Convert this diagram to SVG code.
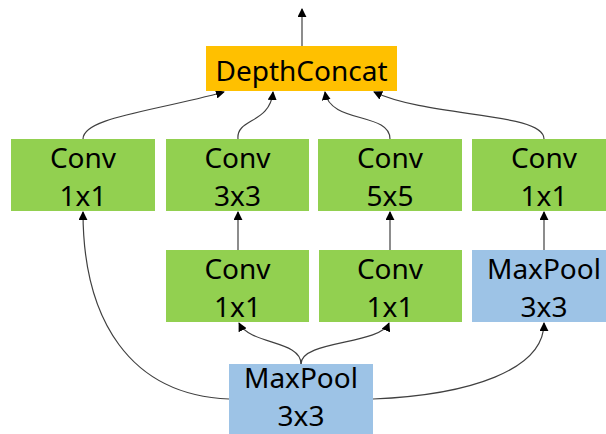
<svg xmlns="http://www.w3.org/2000/svg" width="606" height="434" viewBox="0 0 606 434">
<style>
  .t { font-family: "Noto Sans", "Open Sans", sans-serif; font-size: 28px; fill: #000; text-anchor: middle; }
  .conv { fill: #92D050; }
  .pool { fill: #9DC3E6; }
  .cat { fill: #FFC000; }
  .c { fill: none; stroke: #404040; stroke-width: 1.2; marker-end: url(#ah); }
</style>
<defs>
  <marker id="ah" viewBox="0 0 10 10" refX="9" refY="5" markerWidth="9" markerHeight="9" markerUnits="userSpaceOnUse" orient="auto">
    <path d="M0,0 L10,5 L0,10 z" fill="#000"/>
  </marker>
</defs>
<rect width="606" height="434" fill="#fff"/>
<g id="connectors">
  <path class="c" d="M302,46 L302,9"/>
  <path class="c" d="M83,139 C83,118 150,112 224,92"/>
  <path class="c" d="M238,139 C236,118 270,124 273,92"/>
  <path class="c" d="M390,139 C390,112 330,124 325,92"/>
  <path class="c" d="M544,139 C544,112 430,118 374,92"/>
  <path class="c" d="M238,250 L238,212"/>
  <path class="c" d="M390,250 L390,212"/>
  <path class="c" d="M544,250 L544,212"/>
  <path class="c" d="M301,364 C301,340 250,345 239,323"/>
  <path class="c" d="M301,364 C301,340 380,345 389,323"/>
  <path class="c" d="M229,399 C130,395 83,320 83,212"/>
  <path class="c" d="M373,399 C470,395 544,370 544,323"/>
</g>
<g id="depthconcat"><rect class="cat" x="206" y="46" width="191" height="45"/><text class="t" x="301.5" y="81">DepthConcat</text></g>
<g id="conv1x1_a"><rect class="conv" x="11" y="139" width="144" height="72"/><text class="t" x="83" y="168">Conv</text><text class="t" x="83" y="206">1x1</text></g>
<g id="conv3x3"><rect class="conv" x="166" y="139" width="143" height="72"/><text class="t" x="237.5" y="168">Conv</text><text class="t" x="237.5" y="206">3x3</text></g>
<g id="conv5x5"><rect class="conv" x="318" y="139" width="144" height="72"/><text class="t" x="390" y="168">Conv</text><text class="t" x="390" y="206">5x5</text></g>
<g id="conv1x1_d"><rect class="conv" x="472" y="139" width="134" height="72"/><text class="t" x="544" y="168">Conv</text><text class="t" x="544" y="206">1x1</text></g>
<g id="conv1x1_b"><rect class="conv" x="166" y="250" width="143" height="72"/><text class="t" x="237.5" y="279">Conv</text><text class="t" x="237.5" y="317">1x1</text></g>
<g id="conv1x1_c"><rect class="conv" x="319" y="250" width="143" height="72"/><text class="t" x="390" y="279">Conv</text><text class="t" x="390" y="317">1x1</text></g>
<g id="maxpool_right"><rect class="pool" x="472" y="250" width="134" height="72"/><text class="t" x="544" y="279">MaxPool</text><text class="t" x="544" y="317">3x3</text></g>
<g id="maxpool_bottom"><rect class="pool" x="229" y="364" width="144" height="72"/><text class="t" x="301" y="388">MaxPool</text><text class="t" x="301" y="426">3x3</text></g>
</svg>
